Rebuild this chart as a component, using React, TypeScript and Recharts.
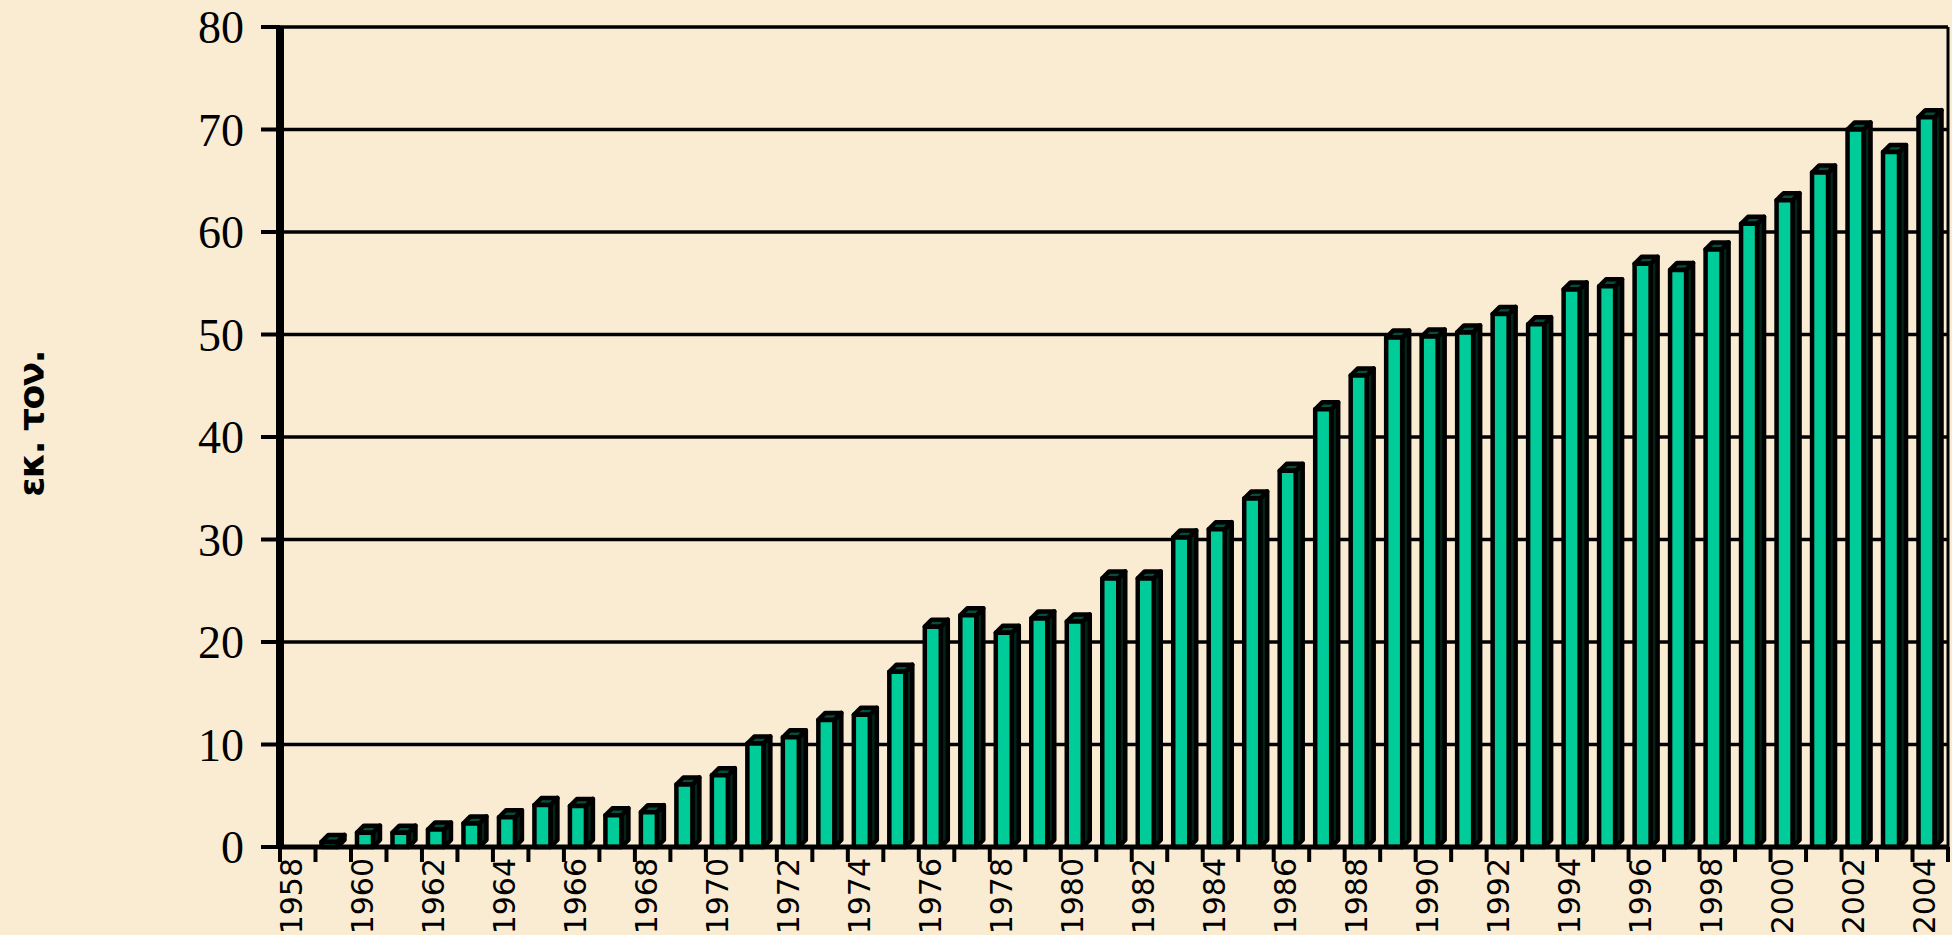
import { BarChart, Bar, XAxis, YAxis, CartesianGrid } from "recharts"

// years on the category axis
const years = [
  "1958", "1959", "1960", "1961", "1962", "1963", "1964", "1965", "1966", "1967",
  "1968", "1969", "1970", "1971", "1972", "1973", "1974", "1975", "1976", "1977",
  "1978", "1979", "1980", "1981", "1982", "1983", "1984", "1985", "1986", "1987",
  "1988", "1989", "1990", "1991", "1992", "1993", "1994", "1995", "1996", "1997",
  "1998", "1999", "2000", "2001", "2002", "2003", "2004",
]

// εκ. τον. per year
const tonnes = [
  0, 0.5, 1.4, 1.4, 1.7, 2.3, 2.9, 4.1, 4.0, 3.1,
  3.4, 6.1, 7.0, 10.1, 10.7, 12.4, 12.9, 17.1, 21.5, 22.6,
  20.9, 22.3, 22.0, 26.2, 26.2, 30.2, 31.0, 34.0, 36.7, 42.7,
  46.0, 49.7, 49.8, 50.2, 52.0, 51.0, 54.4, 54.7, 56.9, 56.3,
  58.3, 60.8, 63.1, 65.8, 70.0, 67.8, 71.2,
]

const yTicks = [0, 10, 20, 30, 40, 50, 60, 70, 80]
const yTitle = "εκ. τον."

const data = years.map((year, i) => ({ year, v: tonnes[i] }))

// pseudo 3d column like the old excel charts
function Column(props: any) {
  const { x, y, width, height } = props
  if (!height || height <= 0) return null
  const d = 7
  const fw = width - d
  return (
    <g stroke="#000" strokeWidth={4.5} strokeLinejoin="round">
      <polygon
        points={`${x + fw},${y} ${x + width},${y - d} ${x + width},${y + height - d} ${x + fw},${y + height}`}
        fill="#02251a"
      />
      <polygon
        points={`${x},${y} ${x + d},${y - d} ${x + width},${y - d} ${x + fw},${y}`}
        fill="#074d38"
      />
      <rect x={x} y={y} width={fw} height={height} fill="#00CC99" />
    </g>
  )
}

function YearTick(props: any) {
  const { x, y, payload, index, visibleTicksCount } = props
  const half = payload.offset || 17.7
  const top = y - 15
  const even = Number(payload.value) % 2 === 0
  const tx = x - 6
  const ty = y - 4
  return (
    <g>
      <line x1={x - half} x2={x - half} y1={top} y2={y} stroke="#000" strokeWidth={4} />
      {index === visibleTicksCount - 1 && (
        <line x1={x + half} x2={x + half} y1={top} y2={y} stroke="#000" strokeWidth={4} />
      )}
      {even && (
        <text
          x={tx}
          y={ty}
          transform={`rotate(-90 ${tx} ${ty})`}
          textAnchor="end"
          dy="0.35em"
          fontFamily="DejaVu Sans"
          fontSize={30}
          fill="#000"
        >
          {payload.value}
        </text>
      )}
    </g>
  )
}

function YTitle(props: any) {
  const vb = props.viewBox
  const cx = vb.x + 31
  const cy = vb.y + vb.height / 2 - 13
  return (
    <text
      x={cx}
      y={cy}
      transform={`rotate(-90 ${cx} ${cy})`}
      textAnchor="middle"
      dominantBaseline="central"
      fontFamily="DejaVu Sans"
      fontWeight="bold"
      fontSize={36}
      letterSpacing={-1.5}
      fill="#000"
    >
      {yTitle}
    </text>
  )
}

export default function App() {
  return (
    <div style={{ position: "absolute", left: 0, top: 0, width: 1952, height: 935, background: "#FAECD3" }}>
      <BarChart width={1952} height={935} data={data} margin={{ top: 27, right: 0, left: 0, bottom: 0 }}>
        <CartesianGrid vertical={false} stroke="#000" strokeWidth={3.5} />
        <Bar dataKey="v" barSize={23} shape={<Column />} isAnimationActive={false} />
        <XAxis
          dataKey="year"
          interval={0}
          height={88}
          tickLine={false}
          tickSize={15}
          tickMargin={0}
          tick={<YearTick />}
          axisLine={{ stroke: "#000", strokeWidth: 5 }}
        />
        <YAxis
          domain={[0, 80]}
          ticks={yTicks}
          width={280}
          tickSize={19}
          tickMargin={17}
          tickLine={{ stroke: "#000", strokeWidth: 4 }}
          axisLine={{ stroke: "#000", strokeWidth: 8 }}
          tick={{ fontFamily: "Liberation Serif", fontSize: 46, fill: "#000" }}
          label={<YTitle />}
        />
        <YAxis
          yAxisId="r"
          orientation="right"
          domain={[0, 80]}
          width={4}
          tick={false}
          tickLine={false}
          axisLine={{ stroke: "#000", strokeWidth: 3 }}
        />
      </BarChart>
    </div>
  )
}
